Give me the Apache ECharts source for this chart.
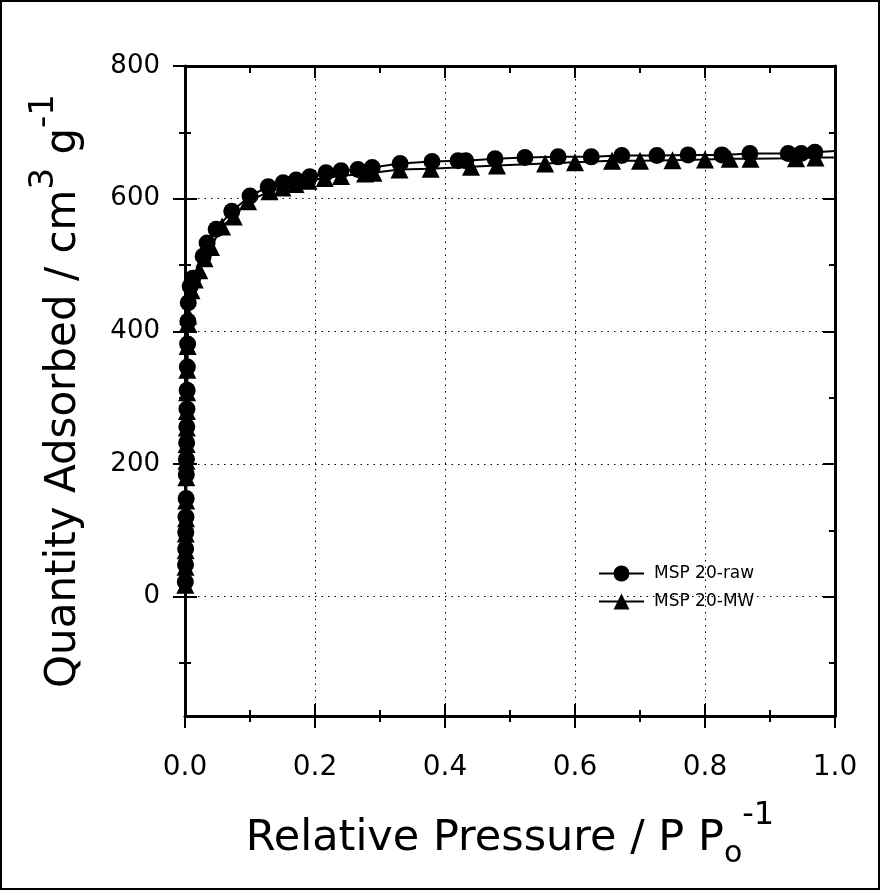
<!DOCTYPE html>
<html><head><meta charset="utf-8">
<script src="https://cdn.jsdelivr.net/npm/echarts@6/dist/echarts.min.js"></script>
<style>html,body{margin:0;padding:0;background:#fff}#c{width:880px;height:890px}</style>
</head><body><div id="c"></div>
<script>
// ---- data ----
const xTickValues = [0, 0.2, 0.4, 0.6, 0.8, 1.0];
const xMinorTicks = [0.1, 0.3, 0.5, 0.7, 0.9];
const yTickValues = [0, 200, 400, 600, 800];
const yMinorTicks = [-100, 100, 300, 500, 700];
const seriesNames = ['MSP 20-raw', 'MSP 20-MW'];

const rawPressure = [0.0005, 0.0008, 0.001, 0.0012, 0.0015, 0.0018, 0.002, 0.0022, 0.0025, 0.0028, 0.003, 0.0033, 0.0036, 0.004, 0.0045, 0.005,
  0.008, 0.012, 0.028, 0.034, 0.048, 0.072, 0.1, 0.128, 0.151, 0.171, 0.192, 0.217, 0.24, 0.266, 0.288,
  0.331, 0.38, 0.42, 0.432, 0.477, 0.523, 0.574, 0.625, 0.672, 0.726, 0.774, 0.826, 0.869, 0.928, 0.948, 0.969, 1.0];
const rawQuantity = [22, 48, 72, 97, 120, 148, 184, 207, 232, 256, 283, 311, 346, 381, 415, 443,
  468, 480, 513, 533, 554, 581, 604, 618, 624, 628, 633, 639, 642, 644, 647,
  653, 656, 657, 657, 660, 662, 663, 663, 665, 665, 666, 666, 668, 668, 668, 670, 672];

const mwPressure = [0.0005, 0.0008, 0.001, 0.0012, 0.0015, 0.0018, 0.002, 0.0022, 0.0025, 0.0028, 0.003, 0.0033, 0.0036, 0.004, 0.0045, 0.005,
  0.01, 0.015, 0.022, 0.03, 0.04, 0.057, 0.075, 0.097, 0.13, 0.15, 0.17, 0.19, 0.215, 0.24, 0.277, 0.29,
  0.33, 0.378, 0.44, 0.48, 0.554, 0.6, 0.657, 0.7, 0.75, 0.8, 0.838, 0.87, 0.94, 0.97, 1.0];
const mwQuantity = [18, 45, 70, 95, 118, 145, 180, 205, 230, 255, 280, 308, 342, 378, 412, 424,
  462, 478, 492, 510, 527, 558, 573, 596, 611, 617, 622, 627, 631, 634, 638, 639,
  644, 645, 648, 650, 653, 655, 657, 657, 658, 659, 660, 660, 661, 662, 662];

// ---- build ----
function pts(xs, ys) {
  return xs.map((x, i) => {
    const item = { value: [x, ys[i]] };
    if (i === xs.length - 1) item.symbol = 'none';
    return item;
  });
}
const FONT = 'DejaVu Sans';
const black = '#000';

function tickAxis(pos, values, len, inside, offset, min, max, showLine) {
  return {
    type: 'value', position: pos, min: min, max: max, offset: offset,
    axisLine: { show: !!showLine, onZero: false, lineStyle: { color: black, width: 3 } },
    axisTick: { show: true, inside: inside, length: len, customValues: values, lineStyle: { color: black, width: 2 } },
    axisLabel: { show: false },
    splitLine: { show: false },
    minorTick: { show: false }
  };
}

const XMIN = 0, XMAX = 1, YMIN = -180, YMAX = 800;

const option = {
  animation: false,
  backgroundColor: '#fff',
  grid: { left: 185, right: 45, top: 66, bottom: 174, outerBoundsMode: 'none' },
  graphic: [{
    type: 'rect', shape: { x: 1, y: 1, width: 878, height: 888 },
    style: { fill: 'none', stroke: black, lineWidth: 2 }, silent: true, z: 100
  }],
  legend: {
    orient: 'vertical', left: 593, top: 560, itemWidth: 45, itemHeight: 20, itemGap: 11,
    data: seriesNames,
    lineStyle: { width: 2, color: black },
    textStyle: { fontFamily: FONT, fontSize: 17, color: black, padding: [0, 0, 0, 5] }
  },
  xAxis: [
    {
      type: 'value', position: 'bottom', min: XMIN, max: XMAX,
      name: '{a|Relative Pressure / P P}{b|o}{c|-1}',
      nameLocation: 'middle', nameGap: 84,
      nameTextStyle: {
        color: black, fontFamily: FONT,
        rich: {
          a: { fontSize: 43, fontFamily: FONT, color: black },
          b: { fontSize: 30, fontFamily: FONT, color: black, padding: [30, 0, 0, 0] },
          c: { fontSize: 32, fontFamily: FONT, color: black, padding: [0, 0, 46, 0] }
        }
      },
      axisLine: { show: true, onZero: false, lineStyle: { color: black, width: 3 } },
      axisTick: { show: false, customValues: xTickValues },
      axisLabel: {
        show: true, customValues: xTickValues, margin: 38,
        fontFamily: FONT, fontSize: 28, color: black,
        formatter: v => Number(v).toFixed(1)
      },
      splitLine: { show: true, lineStyle: { color: black, width: 1, type: [1.5, 5] } },
      minorTick: { show: false }
    },
    tickAxis('bottom', xTickValues, 24, false, -12, XMIN, XMAX, false),
    tickAxis('bottom', xMinorTicks, 12, false, -6, XMIN, XMAX, false),
    tickAxis('top', xTickValues, 12, true, 0, XMIN, XMAX, true),
    tickAxis('top', xMinorTicks, 7, true, 0, XMIN, XMAX, false)
  ],
  yAxis: [
    {
      type: 'value', position: 'left', min: YMIN, max: YMAX,
      name: '{a|Quantity Adsorbed / cm}{s|3}{a| g}{s|-1}',
      nameLocation: 'middle', nameGap: 84, nameRotate: 90,
      nameTextStyle: {
        color: black, fontFamily: FONT,
        rich: {
          a: { fontSize: 42, fontFamily: FONT, color: black },
          s: { fontSize: 34, fontFamily: FONT, color: black, padding: [0, 0, 40, 0] }
        }
      },
      axisLine: { show: true, onZero: false, lineStyle: { color: black, width: 3 } },
      axisTick: { show: false, customValues: yTickValues },
      axisLabel: {
        show: true, customValues: yTickValues, margin: 25,
        fontFamily: FONT, fontSize: 26, color: black
      },
      splitLine: { show: true, lineStyle: { color: black, width: 1, type: [1.5, 5] } },
      minorTick: { show: false }
    },
    tickAxis('left', yTickValues, 24, false, -12, YMIN, YMAX, false),
    tickAxis('left', yMinorTicks, 12, false, -6, YMIN, YMAX, false),
    tickAxis('right', yTickValues, 12, true, 0, YMIN, YMAX, true),
    tickAxis('right', yMinorTicks, 6, true, 0, YMIN, YMAX, false)
  ],
  series: [
    {
      name: seriesNames[1], type: 'line', xAxisIndex: 0, yAxisIndex: 0,
      data: pts(mwPressure, mwQuantity),
      symbol: 'triangle', symbolSize: 18, showAllSymbol: true,
      lineStyle: { color: black, width: 2 }, itemStyle: { color: black, borderWidth: 0 },
      z: 3
    },
    {
      name: seriesNames[0], type: 'line', xAxisIndex: 0, yAxisIndex: 0,
      data: pts(rawPressure, rawQuantity),
      symbol: 'circle', symbolSize: 17, showAllSymbol: true,
      lineStyle: { color: black, width: 2 }, itemStyle: { color: black, borderWidth: 0 },
      z: 4
    }
  ]
};
const chart = echarts.init(document.getElementById('c'), null, { renderer: 'canvas' });
chart.setOption(option);
</script>
</body></html>
